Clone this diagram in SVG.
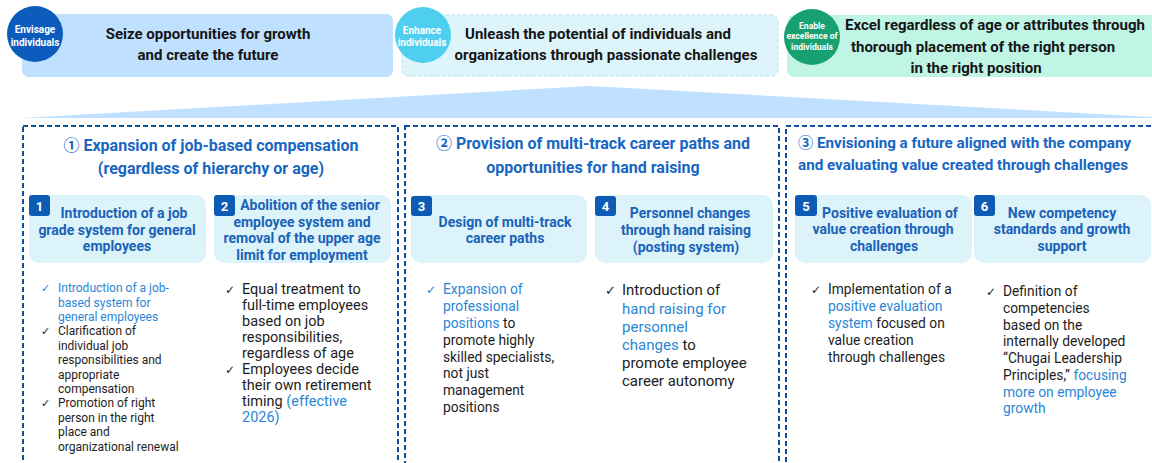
<svg xmlns="http://www.w3.org/2000/svg" width="1152" height="463" viewBox="0 0 1152 463">
  <style>
    text { font-family: Roboto, "Liberation Sans", "Noto Sans CJK JP", sans-serif; }
    .banner-title { font-size: 15px; font-weight: 700; fill: #151515; text-anchor: middle; }
    .badge-label { font-weight: 700; fill: #ffffff; text-anchor: middle; }
    .section-title { font-size: 16px; font-weight: 700; fill: #1766c2; }
    .section-title.narrow { font-size: 15.2px; }
    .card { fill: #dcf3fa; }
    .num-badge { fill: #0c5bb5; }
    .num { font-size: 13px; font-weight: 700; fill: #ffffff; text-anchor: middle; }
    .card-title { font-size: 14px; font-weight: 700; fill: #1a62b8; text-anchor: middle; }
    .frame { fill: none; stroke: #0d4f9a; stroke-width: 2; stroke-dasharray: 5 3; }
    .body { fill: #1d1d1d; }
    .hl { fill: #2a86d6; }
    .tick { font-family: "DejaVu Sans", sans-serif; font-weight: 700; }
  </style>

  <!-- top banners -->
  <g id="banner-envisage">
    <rect x="22" y="14" width="371" height="63" rx="7" fill="#bfe0ff"/>
    <text class="banner-title" x="208" y="39">Seize opportunities for growth</text>
    <text class="banner-title" x="208" y="60">and create the future</text>
    <circle cx="35" cy="34" r="28" fill="#0b5cbd"/>
    <text class="badge-label" x="35" y="33" font-size="10">Envisage</text>
    <text class="badge-label" x="35" y="46" font-size="10">individuals</text>
  </g>

  <g id="banner-enhance">
    <rect x="402" y="15" width="376" height="61" rx="7" fill="#ddf4fa" stroke="#c9ebf5" stroke-width="1.5" stroke-dasharray="4 2"/>
    <text class="banner-title" x="598" y="39">Unleash the potential of individuals and</text>
    <text class="banner-title" x="606" y="60">organizations through passionate challenges</text>
    <circle cx="423" cy="35" r="28" fill="#4fcfef"/>
    <text class="badge-label" x="422" y="34" font-size="10">Enhance</text>
    <text class="badge-label" x="422" y="46" font-size="10">individuals</text>
  </g>

  <g id="banner-excellence">
    <rect x="787" y="15" width="372" height="62" rx="7" fill="#c0f5e6"/>
    <text class="banner-title" x="995" y="30">Excel regardless of age or attributes through</text>
    <text class="banner-title" x="983" y="52">thorough placement of the right person</text>
    <text class="banner-title" x="976" y="73">in the right position</text>
    <circle cx="812" cy="37" r="28" fill="#17a071"/>
    <text class="badge-label" x="812" y="28.5" font-size="8.6">Enable</text>
    <text class="badge-label" x="812" y="39" font-size="8.6">excellence of</text>
    <text class="badge-label" x="812" y="49.5" font-size="8.6">individuals</text>
  </g>

  <!-- roof shape joining the banners to the three pillars -->
  <g id="connectors">
    <polygon points="22,118 590,86 1152,117 1152,118" fill="#bfe0ff"/>
  </g>

  <!-- pillar 1 -->
  <g id="pillar-1">
    <rect class="frame" x="23" y="126" width="375" height="360"/>
    <text class="section-title" x="211" y="151" text-anchor="middle">① Expansion of job-based compensation</text>
    <text class="section-title" x="211" y="174" text-anchor="middle">(regardless of hierarchy or age)</text>
  </g>

  <g id="card-1">
    <rect class="card" x="29" y="195" width="177" height="68" rx="10"/>
    <rect class="num-badge" x="29" y="195" width="21" height="21" rx="3"/>
    <text class="num" x="39.5" y="210.5">1</text>
    <text class="card-title" x="124" y="218">Introduction of a job</text>
    <text class="card-title" x="117" y="235">grade system for general</text>
    <text class="card-title" x="117" y="251">employees</text>
  </g>
  <g id="card-1-points" font-size="12">
    <text class="tick hl" x="41" y="292" font-size="11">✓</text>
    <text class="hl" x="58" y="292">Introduction of a job-</text>
    <text class="hl" x="58" y="306.5">based system for</text>
    <text class="hl" x="58" y="321">general employees</text>
    <text class="tick body" x="41" y="335" font-size="11">✓</text>
    <text class="body" x="58" y="335">Clarification of</text>
    <text class="body" x="58" y="349.5">individual job</text>
    <text class="body" x="58" y="364">responsibilities and</text>
    <text class="body" x="58" y="378.5">appropriate</text>
    <text class="body" x="58" y="393">compensation</text>
    <text class="tick body" x="41" y="407" font-size="11">✓</text>
    <text class="body" x="58" y="407">Promotion of right</text>
    <text class="body" x="58" y="421.5">person in the right</text>
    <text class="body" x="58" y="436">place and</text>
    <text class="body" x="58" y="450.5">organizational renewal</text>
  </g>

  <g id="card-2">
    <rect class="card" x="214" y="195" width="177" height="68" rx="10"/>
    <rect class="num-badge" x="214" y="195" width="21" height="21" rx="3"/>
    <text class="num" x="224.5" y="210.5">2</text>
    <text class="card-title" x="310" y="210">Abolition of the senior</text>
    <text class="card-title" x="302" y="226.5">employee system and</text>
    <text class="card-title" x="302" y="243">removal of the upper age</text>
    <text class="card-title" x="302" y="259.5">limit for employment</text>
  </g>
  <g id="card-2-points" font-size="14.5">
    <text class="tick body" x="225" y="294" font-size="12">✓</text>
    <text class="body" x="242" y="294">Equal treatment to</text>
    <text class="body" x="242" y="310">full-time employees</text>
    <text class="body" x="242" y="326">based on job</text>
    <text class="body" x="242" y="342">responsibilities,</text>
    <text class="body" x="242" y="358">regardless of age</text>
    <text class="tick body" x="225" y="374" font-size="12">✓</text>
    <text class="body" x="242" y="374">Employees decide</text>
    <text class="body" x="242" y="390">their own retirement</text>
    <text class="body" x="242" y="406">timing <tspan class="hl">(effective</tspan></text>
    <text class="hl" x="242" y="422">2026)</text>
  </g>

  <!-- pillar 2 -->
  <g id="pillar-2">
    <rect class="frame" x="405" y="126" width="374" height="360"/>
    <text class="section-title" x="593" y="149" text-anchor="middle">② Provision of multi-track career paths and</text>
    <text class="section-title" x="593" y="173" text-anchor="middle">opportunities for hand raising</text>
  </g>

  <g id="card-3">
    <rect class="card" x="411" y="195" width="176" height="68" rx="10"/>
    <rect class="num-badge" x="411" y="196" width="21" height="20" rx="3"/>
    <text class="num" x="421.5" y="211">3</text>
    <text class="card-title" x="505" y="227">Design of multi-track</text>
    <text class="card-title" x="505" y="243">career paths</text>
  </g>
  <g id="card-3-points" font-size="13.8">
    <text class="tick hl" x="426" y="294" font-size="12">✓</text>
    <text class="hl" x="443" y="294">Expansion of</text>
    <text class="hl" x="443" y="311">professional</text>
    <text class="body" x="443" y="328"><tspan class="hl">positions</tspan> to</text>
    <text class="body" x="443" y="345">promote highly</text>
    <text class="body" x="443" y="361.5">skilled specialists,</text>
    <text class="body" x="443" y="378">not just</text>
    <text class="body" x="443" y="395">management</text>
    <text class="body" x="443" y="412">positions</text>
  </g>

  <g id="card-4">
    <rect class="card" x="595" y="195" width="178" height="68" rx="10"/>
    <rect class="num-badge" x="595" y="196" width="21" height="20" rx="3"/>
    <text class="num" x="605.5" y="211">4</text>
    <text class="card-title" x="690" y="218">Personnel changes</text>
    <text class="card-title" x="686" y="235">through hand raising</text>
    <text class="card-title" x="686" y="252">(posting system)</text>
  </g>
  <g id="card-4-points" font-size="15">
    <text class="tick body" x="605" y="295" font-size="13">✓</text>
    <text class="body" x="622" y="295">Introduction of</text>
    <text class="hl" x="622" y="313.5">hand raising for</text>
    <text class="hl" x="622" y="331.5">personnel</text>
    <text class="body" x="622" y="350"><tspan class="hl">changes</tspan> to</text>
    <text class="body" x="622" y="368">promote employee</text>
    <text class="body" x="622" y="386">career autonomy</text>
  </g>

  <!-- pillar 3 -->
  <g id="pillar-3">
    <rect class="frame" x="786" y="126" width="380" height="360"/>
    <text class="section-title narrow" x="798" y="148">③ Envisioning a future aligned with the company</text>
    <text class="section-title narrow" x="798" y="170">and evaluating value created through challenges</text>
  </g>

  <g id="card-5">
    <rect class="card" x="795" y="195" width="177" height="68" rx="10"/>
    <rect class="num-badge" x="795" y="195" width="22" height="21" rx="3"/>
    <text class="num" x="806" y="210.5">5</text>
    <text class="card-title" x="890" y="218">Positive evaluation of</text>
    <text class="card-title" x="883" y="234">value creation through</text>
    <text class="card-title" x="884" y="251">challenges</text>
  </g>
  <g id="card-5-points" font-size="13.8">
    <text class="tick body" x="811" y="294" font-size="12">✓</text>
    <text class="body" x="828" y="294">Implementation of a</text>
    <text class="hl" x="828" y="311">positive evaluation</text>
    <text class="body" x="828" y="328"><tspan class="hl">system</tspan> focused on</text>
    <text class="body" x="828" y="345">value creation</text>
    <text class="body" x="828" y="361.5">through challenges</text>
  </g>

  <g id="card-6">
    <rect class="card" x="974" y="195" width="177" height="68" rx="10"/>
    <rect class="num-badge" x="974" y="195" width="21" height="21" rx="3"/>
    <text class="num" x="984.5" y="210.5">6</text>
    <text class="card-title" x="1062" y="218">New competency</text>
    <text class="card-title" x="1062" y="234">standards and growth</text>
    <text class="card-title" x="1062" y="251">support</text>
  </g>
  <g id="card-6-points" font-size="13.8">
    <text class="tick body" x="986" y="296" font-size="12">✓</text>
    <text class="body" x="1003" y="296">Definition of</text>
    <text class="body" x="1003" y="312.5">competencies</text>
    <text class="body" x="1003" y="329.5">based on the</text>
    <text class="body" x="1003" y="346">internally developed</text>
    <text class="body" x="1003" y="363">“Chugai Leadership</text>
    <text class="body" x="1003" y="379.5">Principles,” <tspan class="hl">focusing</tspan></text>
    <text class="hl" x="1003" y="396.5">more on employee</text>
    <text class="hl" x="1003" y="413">growth</text>
  </g>
</svg>
